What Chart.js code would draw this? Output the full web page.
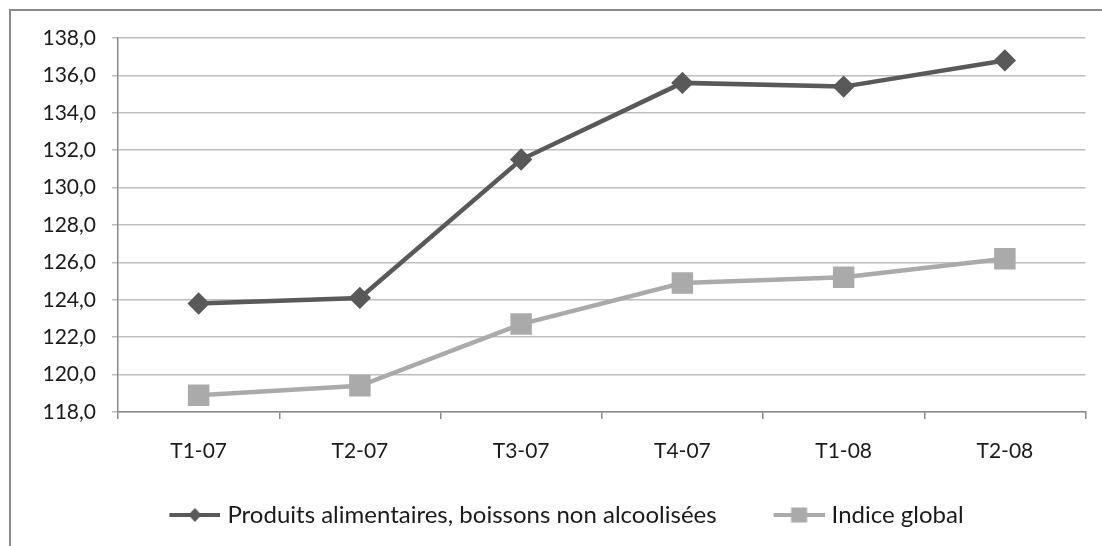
<!DOCTYPE html>
<html>
<head>
<meta charset="utf-8">
<script src="https://cdn.jsdelivr.net/npm/chart.js@4"></script>
<style>
  html, body { margin: 0; padding: 0; background: #fff; overflow: hidden; }
  #wrap { width: 1102px; height: 546px; }
</style>
</head>
<body>
<div id="wrap"><canvas id="myChart" width="1102" height="546"></canvas></div>
<script>
const categories = ['T1-07', 'T2-07', 'T3-07', 'T4-07', 'T1-08', 'T2-08'];
const foodValues = [123.8, 124.1, 131.5, 135.6, 135.4, 136.8];
const globalValues = [118.9, 119.4, 122.7, 124.9, 125.2, 126.2];
const seriesNames = ['Produits alimentaires, boissons non alcoolisées', 'Indice global'];
const yRange = [118, 138, 2];

const darkGrey = '#595959';
const lightGrey = '#aaaaaa';
const fontFamily = 'Lato';

// small line + marker pictures for the legend (box is 68 wide, picture 78 wide, centred)
function legendIcon(color, style) {
  const c = document.createElement('canvas');
  c.width = 78;
  c.height = 20;
  const g = c.getContext('2d');
  g.strokeStyle = color;
  g.lineWidth = 4;
  g.beginPath();
  g.moveTo(27, 10);
  g.lineTo(78, 10);
  g.stroke();
  g.fillStyle = color;
  const mx = 52.5;
  if (style === 'diamond') {
    g.beginPath();
    g.moveTo(mx, 3);
    g.lineTo(mx + 6.5, 10);
    g.lineTo(mx, 17);
    g.lineTo(mx - 6.5, 10);
    g.closePath();
    g.fill();
  } else {
    g.fillRect(mx - 8, 2.5, 16, 15);
  }
  return c;
}
const legendIcons = [legendIcon(darkGrey, 'diamond'), legendIcon(lightGrey, 'square')];

const frame = {
  id: 'frame',
  beforeDraw(chart) {
    const c = chart.ctx;
    c.save();
    c.fillStyle = '#fff';
    c.fillRect(0, 0, chart.width, chart.height);
    c.strokeStyle = '#8a8a8a';
    c.lineWidth = 2;
    c.strokeRect(10, 10, 1200, 700);
    c.restore();
  }
};

const ctx = document.getElementById('myChart').getContext('2d');

const myChart = new Chart(ctx, {
  type: 'line',
  data: {
    labels: categories,
    datasets: [{
      label: seriesNames[0],
      data: foodValues,
      borderColor: darkGrey,
      backgroundColor: darkGrey,
      borderWidth: 4.5,
      pointStyle: 'rectRot',
      pointRadius: 8,
      pointHoverRadius: 8,
      tension: 0
    }, {
      label: seriesNames[1],
      data: globalValues,
      borderColor: lightGrey,
      backgroundColor: lightGrey,
      borderWidth: 4.5,
      pointStyle: 'rect',
      pointRadius: 12,
      pointHoverRadius: 12,
      tension: 0
    }]
  },
  plugins: [frame],
  options: {
    responsive: false,
    animation: false,
    layout: {
      padding: { left: 20, right: 11, top: 38, bottom: 9 }
    },
    plugins: {
      title: { display: false },
      tooltip: { enabled: false },
      legend: {
        display: true,
        position: 'bottom',
        labels: {
          color: '#1a1a1a',
          usePointStyle: true,
          pointStyleWidth: 68,
          padding: 35,
          font: { size: 24, family: fontFamily },
          generateLabels(chart) {
            const items = Chart.defaults.plugins.legend.labels.generateLabels(chart);
            items.forEach((it, i) => { it.pointStyle = legendIcons[i]; });
            return items;
          }
        }
      }
    },
    scales: {
      y: {
        min: yRange[0],
        max: yRange[1],
        afterFit(scale) { scale.width = 98; },
        ticks: {
          stepSize: yRange[2],
          color: '#1a1a1a',
          padding: 16,
          font: { size: 21, family: fontFamily },
          callback: v => v.toFixed(1).replace('.', ',')
        },
        grid: {
          color: '#bdbdbd',
          lineWidth: 1.5,
          tickLength: 6
        },
        border: { color: '#8a8a8a', width: 1.5 }
      },
      x: {
        offset: true,
        afterFit(scale) { scale.height = 56; },
        ticks: {
          color: '#1a1a1a',
          padding: 20,
          maxRotation: 0,
          font: { size: 21, family: fontFamily }
        },
        grid: {
          offset: true,
          drawOnChartArea: false,
          color: '#8a8a8a',
          lineWidth: 1.5,
          tickLength: 7
        },
        border: { color: '#8a8a8a', width: 1.5 }
      }
    }
  }
});
</script>
</body>
</html>
